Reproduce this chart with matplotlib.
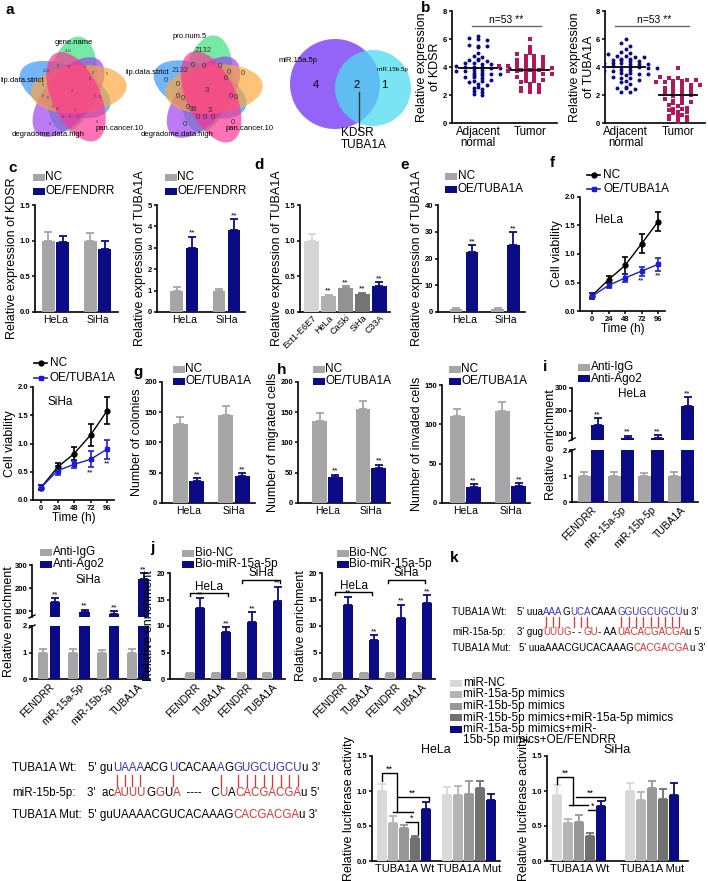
import numpy as np
import matplotlib
matplotlib.use('Agg')
import matplotlib.pyplot as plt
from matplotlib.patches import Ellipse, Circle, Rectangle
from matplotlib.lines import Line2D
from matplotlib.font_manager import FontProperties

plt.rcParams['font.family'] = ['Liberation Sans', 'DejaVu Sans']
plt.rcParams['axes.linewidth'] = 1.2

W, H = 708, 881
NAVY = '#0b0b85'
GRAY = '#a6a6a6'
LBLUE = '#1c1cd6'
CRIM = '#b5165b'
SEQ_BLUE = '#3434c8'
SEQ_RED = '#e8302f'

# ---------------- data ----------------
kdsr_adj = [6.2, 6.1, 6.0, 5.9, 5.6, 5.5, 5.5, 5.4, 5.0, 4.8, 4.7, 4.6, 4.5, 4.5, 4.4, 4.3, 4.3, 4.2,
            4.2, 4.1, 4.1, 4.0, 4.0, 4.0, 3.9, 3.9, 3.9, 3.8, 3.8, 3.7, 3.7, 3.6, 3.6, 3.5, 3.5, 3.4,
            3.4, 3.3, 3.3, 3.2, 3.1, 3.0, 3.0, 2.9, 2.8, 2.7, 2.6, 2.5, 2.4, 2.3, 2.2, 2.1, 2.0]
kdsr_tum = [6.0, 5.4, 5.2, 5.0, 4.9, 4.8, 4.8, 4.7, 4.6, 4.6, 4.5, 4.5, 4.4, 4.4, 4.3, 4.3, 4.2, 4.2,
            4.1, 4.1, 4.0, 4.0, 4.0, 3.9, 3.9, 3.9, 3.8, 3.8, 3.8, 3.7, 3.7, 3.6, 3.6, 3.5, 3.5, 3.4,
            3.4, 3.3, 3.2, 3.2, 3.1, 3.0, 3.0, 2.9, 2.8, 2.7, 2.6, 2.5, 2.4, 2.4, 2.3, 2.2, 2.2]
tuba_adj = [6.0, 5.7, 5.5, 5.3, 5.1, 5.0, 4.9, 4.8, 4.8, 4.7, 4.7, 4.6, 4.6, 4.5, 4.5, 4.4, 4.4, 4.3,
            4.3, 4.3, 4.2, 4.2, 4.2, 4.1, 4.1, 4.1, 4.0, 4.0, 4.0, 3.9, 3.9, 3.8, 3.8, 3.7, 3.7, 3.6,
            3.6, 3.5, 3.5, 3.4, 3.3, 3.2, 3.2, 3.1, 3.0, 2.9, 2.8, 2.6, 2.5, 2.5, 2.4, 2.2, 2.2]
tuba_tum = [3.9, 3.3, 3.2, 3.2, 3.1, 3.1, 3.0, 3.0, 2.9, 2.9, 2.8, 2.8, 2.7, 2.7, 2.6, 2.6, 2.5, 2.5,
            2.4, 2.4, 2.3, 2.3, 2.2, 2.2, 2.1, 2.1, 2.0, 2.0, 1.9, 1.8, 1.7, 1.6, 1.6, 1.5, 1.4, 1.4,
            1.3, 1.2, 1.1, 1.0, 1.0, 0.9, 0.8, 0.8, 0.7, 0.6, 0.5, 0.5, 0.4, 0.3, 0.2, 0.2, 0.1]
b_groups = ['Adjacent\nnormal', 'Tumor']

cells = ['HeLa', 'SiHa']
c_kdsr_nc, c_kdsr_nc_err = [1.0, 1.0], [0.12, 0.11]
c_kdsr_oe, c_kdsr_oe_err = [0.98, 0.88], [0.09, 0.11]
c_tuba_nc, c_tuba_nc_err = [1.0, 1.0], [0.15, 0.08]
c_tuba_oe, c_tuba_oe_err = [3.0, 3.85], [0.52, 0.48]

d_lines = ['Ect1-E6E7', 'HeLa', 'CaSki', 'SiHa', 'C33A']
d_vals = [1.0, 0.22, 0.33, 0.25, 0.37]
d_err = [0.1, 0.02, 0.03, 0.02, 0.05]
d_cols = ['#d6d6d6', '#b0b0b0', '#929292', '#747474', NAVY]

e_nc, e_nc_err = [1.2, 1.2], [0.2, 0.2]
e_oe, e_oe_err = [22.5, 25.2], [2.5, 4.6]

hours = [0, 24, 48, 72, 96]
f_hela_nc, f_hela_nc_err = [0.27, 0.55, 0.80, 1.18, 1.57], [0.05, 0.06, 0.15, 0.17, 0.16]
f_hela_oe, f_hela_oe_err = [0.26, 0.45, 0.58, 0.70, 0.82], [0.05, 0.05, 0.07, 0.08, 0.11]
f_siha_nc, f_siha_nc_err = [0.22, 0.58, 0.82, 1.15, 1.58], [0.04, 0.08, 0.12, 0.19, 0.24]
f_siha_oe, f_siha_oe_err = [0.22, 0.52, 0.63, 0.72, 0.90], [0.04, 0.08, 0.06, 0.14, 0.17]

g_nc, g_nc_err = [130, 146], [12, 14]
g_oe, g_oe_err = [37, 45], [4, 4]
mig_nc, mig_nc_err = [135, 155], [13, 14]
mig_oe, mig_oe_err = [43, 58], [4, 5]
inv_nc, inv_nc_err = [110, 117], [10, 12]
inv_oe, inv_oe_err = [20, 22], [4, 3]

rip_targets = ['FENDRR', 'miR-15a-5p', 'miR-15b-5p', 'TUBA1A']
rip_hela_igg, rip_hela_igg_err = [1.0, 1.0, 1.0, 1.0], [0.15, 0.15, 0.12, 0.15]
rip_hela_ago, rip_hela_ago_err = [135, 80, 80, 220], [30, 8, 10, 40]
rip_siha_igg, rip_siha_igg_err = [1.0, 1.0, 1.0, 1.0], [0.15, 0.12, 0.1, 0.12]
rip_siha_ago, rip_siha_ago_err = [140, 95, 88, 240], [15, 10, 10, 25]

j_labels = ['FENDRR', 'TUBA1A', 'FENDRR', 'TUBA1A']
j_nc, j_nc_err = [1.1, 1.1, 1.1, 1.1], [0.1, 0.1, 0.1, 0.1]
j1_oe, j1_oe_err = [13.4, 8.9, 10.8, 14.7], [1.9, 0.9, 1.8, 2.7]
j2_oe, j2_oe_err = [14.0, 7.4, 11.5, 14.3], [1.5, 0.9, 2.5, 1.5]

luc_groups = ['TUBA1A Wt', 'TUBA1A Mut']
luc_legend = ['miR-NC', 'miR-15a-5p mimics', 'miR-15b-5p mimics',
              'miR-15b-5p mimics+miR-15a-5p mimics',
              'miR-15a-5p mimics+miR-\n15b-5p mimics+OE/FENDRR']
luc_cols = ['#d9d9d9', '#b5b5b5', '#979797', '#707070', NAVY]
luc_hela_wt, luc_hela_wt_err = [1.0, 0.55, 0.47, 0.33, 0.75], [0.1, 0.09, 0.05, 0.03, 0.1]
luc_hela_mut, luc_hela_mut_err = [0.95, 0.95, 0.96, 1.04, 0.87], [0.11, 0.12, 0.18, 0.1, 0.09]
luc_siha_wt, luc_siha_wt_err = [0.95, 0.55, 0.56, 0.36, 0.79], [0.13, 0.05, 0.1, 0.04, 0.07]
luc_siha_mut, luc_siha_mut_err = [1.0, 0.87, 1.05, 0.89, 0.95], [0.12, 0.11, 0.1, 0.14, 0.17]

venn_sets1 = ['gene.name', 'lip.data.strict', 'degradome.data.high', 'pan.cancer.10']
venn_sets2 = ['pro.num.5', 'lip.data.strict', 'degradome.data.high', 'pan.cancer.10']
venn_nums = ['2132', '2132', '0', '0', '3', '38', '3', '0', '0', '0', '0', '0', '0', '0',
             '0', '0', '0', '0', '0', '0', '0', '0', '0']
venn_num_pos = [(-4, -40), (-26, -20), (-40, -10), (35, -17), (0, 0), (-14, 18), (3, 19),
                (-22, 33), (25, 31), (-14, -25), (-3, -24), (13, -24), (21, -18), (18, -12),
                (-29, -6), (-29, 5), (-24, 7), (23, 5), (28, 6), (-19, 16), (-9, 26), (-2, 26),
                (6, 26)]

# ---------------- helpers ----------------
fig = plt.figure(figsize=(W / 100, H / 100), dpi=100)
rend = fig.canvas.get_renderer()


def box(x0, y0, x1, y1):
    return fig.add_axes([x0 / W, 1 - y1 / H, (x1 - x0) / W, (y1 - y0) / H])


def txt(x, y, s, **kw):
    kw.setdefault('ha', 'left')
    kw.setdefault('va', 'center')
    return fig.text(x / W, 1 - y / H, s, **kw)


def fline(xs, ys, **kw):
    fig.add_artist(Line2D([v / W for v in xs], [1 - v / H for v in ys], **kw))


def prism(ax, ylim, yticks, ylabel=None, ylsize=9):
    ax.spines['top'].set_visible(False)
    ax.spines['right'].set_visible(False)
    ax.set_facecolor('none')
    ax.set_ylim(*ylim)
    ax.set_yticks(yticks)
    ax.tick_params(axis='y', length=2.5, width=1.1, labelsize=5.5, pad=1)
    ax.tick_params(axis='x', length=0, labelsize=7.5, pad=2)
    for lab in ax.get_yticklabels():
        lab.set_fontweight('bold')
    if ylabel:
        ax.set_ylabel(ylabel, fontsize=ylsize, labelpad=1)


def draw_bars(ax, x, vals, errs, color, width):
    ax.bar(x, vals, width, color=color, zorder=3)
    ax.errorbar(x, vals, yerr=[np.zeros(len(vals)), errs], fmt='none', ecolor=color,
                elinewidth=1.3, capsize=3, capthick=1.3, zorder=2)


def stars(ax, x, vals, errs, s='**', gap=0.0):
    for xi, v, e in zip(x, vals, errs):
        ax.text(xi, v + e + gap, s, ha='center', va='bottom', fontsize=6)


def legend_sw(x, y, items, step=12, size=8.5):
    for i, (lab, col) in enumerate(items):
        yy = y + i * step
        fig.add_artist(Rectangle((x / W, 1 - (yy + 3.5) / H), 12 / W, 7 / H,
                                 transform=fig.transFigure, color=col, lw=0))
        txt(x + 12.5, yy, lab, fontsize=size)


def pair_panel(bx, xlim, off, w, labels, nc, nc_err, oe, oe_err, ylim, yticks, ylabel):
    ax = box(*bx)
    x = np.arange(len(labels))
    draw_bars(ax, x - off, nc, nc_err, GRAY, w)
    draw_bars(ax, x + off, oe, oe_err, NAVY, w)
    ax.set_xlim(*xlim)
    ax.set_xticks(x)
    ax.set_xticklabels(labels)
    prism(ax, ylim, yticks, ylabel)
    return ax, x + off


def swarm_x(vals, center, step=0.17, binw=0.2):
    v = np.asarray(vals)
    bins = np.round(v / binw).astype(int)
    xs = np.zeros(len(v))
    for b in np.unique(bins):
        idx = np.where(bins == b)[0]
        xs[idx] = center + (np.arange(len(idx)) - (len(idx) - 1) / 2) * step
    return xs


def adv(s, size):
    if not s:
        return 0.0
    fp = FontProperties(family='Liberation Sans', size=size)
    w1 = rend.get_text_width_height_descent(s + 'l', fp, ismath=False)[0]
    w0 = rend.get_text_width_height_descent('l', fp, ismath=False)[0]
    return w1 - w0


def seq_line(x, y, parts, size):
    full = ''
    marks = []
    for s, c in parts:
        txt(x + adv(full, size), y, s, color=c, fontsize=size)
        if c == SEQ_BLUE:
            for k in range(len(s)):
                pre = full + s[:k]
                marks.append(x + adv(pre, size) + adv(s[k], size) / 2)
        full += s
    return marks


def panel_letter(x, y, s):
    txt(x, y, s, fontsize=11, fontweight='bold')


# ---------------- a: venn diagrams ----------------
va = box(0, 20, 425, 160)
va.set_xlim(0, 425)
va.set_ylim(160, 20)
va.axis('off')
petal_dirs = [192, -90, 120, -15, 55]
petal_cols = ['#2f93f5', '#35e07a', '#9a3cf0', '#ffa53a', '#ff2f92']


def venn5(cx, cy, sc, nsize):
    for ang, col in zip(petal_dirs, petal_cols):
        r = np.deg2rad(ang)
        va.add_patch(Ellipse((cx + 7 * sc * np.cos(r), cy + 7 * sc * np.sin(r)),
                             96 * sc, 48 * sc, angle=ang + 10, color=col, alpha=0.68, lw=0))
    for s, (dx, dy) in zip(venn_nums, venn_num_pos):
        va.text(cx + dx * sc, cy + dy * sc, s, fontsize=nsize, ha='center', va='center',
                color='#333333')


venn5(72, 91, 1.0, 2.3)
venn5(207, 91, 1.02, 5.5)
for (px, py), s in zip([(74, 43), (22, 80), (48, 135), (120, 128)], venn_sets1):
    va.text(px, py, s, fontsize=5.5, ha='center', va='center')
for (px, py), s in zip([(190, 37), (147, 72), (177, 135), (250, 128)], venn_sets2):
    va.text(px, py, s, fontsize=5.5, ha='center', va='center')

va.add_patch(Circle((335, 84), 45, color='#8d5cf6', alpha=0.95, lw=0))
va.add_patch(Circle((373, 88), 38, color='#4fdcf0', alpha=0.75, lw=0))
va.text(298, 60, 'miR.15a.5p', fontsize=5.5, ha='center', va='center')
va.text(393, 70, 'miR.15b.5p', fontsize=4.5, ha='center', va='center')
for px, s in [(316, '4'), (357, '2'), (384, '1')]:
    va.text(px, 85, s, fontsize=8, ha='center', va='center')
va.plot([359, 359], [92, 130], color='#333333', lw=1)
txt(341, 127, 'KDSR\nTUBA1A', fontsize=8.5, va='top', linespacing=1.0)
panel_letter(5, 10, 'a')

# ---------------- b: scatter ----------------
panel_letter(421, 8, 'b')
for bx, xl, adj, tum, lab, ny in [((452, 11, 557, 123), (-0.5, 1.52), kdsr_adj, kdsr_tum,
                                    'Relative expression\nof KDSR', 6.9),
                                   ((605, 11, 705, 123), (-0.4, 1.52), tuba_adj, tuba_tum,
                                    'Relative expression\nof TUBA1A', 6.9)]:
    ax = box(*bx)
    ax.scatter(swarm_x(adj, 0), adj, s=8, color=NAVY, marker='o', lw=0, zorder=3)
    ax.scatter(swarm_x(tum, 1), tum, s=7, color=CRIM, marker='s', lw=0, zorder=3)
    for c, v in [(0, adj), (1, tum)]:
        ax.plot([c - 0.36, c + 0.36], [np.median(v)] * 2, color='black', lw=1.3, zorder=4)
    ax.plot([-0.12 if xl[0] < -0.45 else -0.2, 1.22], [ny, ny], color='#666666', lw=1)
    ax.text(0.55, ny + 0.1, 'n=53 **', ha='center', va='bottom', fontsize=7.5)
    ax.set_xlim(*xl)
    ax.set_xticks([0, 1])
    ax.set_xticklabels(b_groups, fontsize=8.3, linespacing=0.95)
    prism(ax, (0, 8), [0, 2, 4, 6, 8], lab)
    ax.tick_params(axis='x', labelsize=8.3)

# ---------------- c ----------------
panel_letter(8, 168, 'c')
ax, xo = pair_panel((35, 205, 118, 312), (-0.49, 1.49), 0.17, 0.31, cells, c_kdsr_nc,
                    c_kdsr_nc_err, c_kdsr_oe, c_kdsr_oe_err, (0, 1.5), [0, 0.5, 1.0, 1.5],
                    'Relative expression of KDSR')
legend_sw(33, 177, [('NC', GRAY), ('OE/FENDRR', NAVY)], step=14)
ax, xo = pair_panel((157, 205, 245, 312), (-0.65, 1.44), 0.18, 0.3, cells, c_tuba_nc,
                    c_tuba_nc_err, c_tuba_oe, c_tuba_oe_err, (0, 5), [0, 1, 2, 3, 4, 5],
                    'Relative expression of TUBA1A')
stars(ax, xo, c_tuba_oe, c_tuba_oe_err)
legend_sw(165, 177, [('NC', GRAY), ('OE/FENDRR', NAVY)], step=14)

# ---------------- d ----------------
panel_letter(254, 165, 'd')
ax = box(300, 205, 390, 312)
xd = np.arange(len(d_lines))
for xi, v, e, col in zip(xd, d_vals, d_err, d_cols):
    draw_bars(ax, [xi], [v], [e], col, 0.85)
stars(ax, xd[1:], d_vals[1:], d_err[1:])
ax.set_xlim(-0.68, 4.62)
ax.set_xticks(xd)
ax.set_xticklabels(d_lines, rotation=45, ha='right', rotation_mode='anchor', fontsize=6.5)
prism(ax, (0, 1.5), [0, 0.5, 1.0, 1.5], 'Relative expression of TUBA1A')
ax.tick_params(axis='x', labelsize=6.5, pad=1)

# ---------------- e ----------------
panel_letter(400, 165, 'e')
ax, xo = pair_panel((438, 205, 525, 312), (-0.63, 1.47), 0.19, 0.3, cells, e_nc, e_nc_err,
                    e_oe, e_oe_err, (0, 40), [0, 10, 20, 30, 40], 'Relative expression of TUBA1A')
stars(ax, xo, e_oe, e_oe_err)
legend_sw(445, 176, [('NC', GRAY), ('OE/TUBA1A', NAVY)], step=13)


# ---------------- f ----------------
def viability(bx, xl, nc, nc_err, oe, oe_err, cell, cell_y):
    ax = box(*bx)
    ax.errorbar(hours, nc, yerr=nc_err, color='black', marker='o', ms=3.5, lw=1,
                elinewidth=1.2, capsize=2.5, capthick=1.2)
    ax.errorbar(hours, oe, yerr=oe_err, color=LBLUE, marker='s', ms=3.5, lw=1,
                elinewidth=1.2, capsize=2.5, capthick=1.2)
    for hx, v, e in zip(hours[3:], oe[3:], oe_err[3:]):
        ax.text(hx, v - e - 0.03, '**', ha='center', va='top', fontsize=6)
    ax.text(0.18, cell_y, cell, transform=ax.transAxes, fontsize=8.5, va='center')
    ax.set_xlim(*xl)
    ax.set_xticks(hours)
    prism(ax, (0, 2.0), [0, 0.5, 1.0, 1.5, 2.0], 'Cell viability')
    ax.set_yticklabels(['0.0', '0.5', '1.0', '1.5', '2.0'], fontweight='bold')
    ax.tick_params(axis='x', length=2.5, width=1.1, labelsize=5.5, pad=1)
    for lab in ax.get_xticklabels():
        lab.set_fontweight('bold')
    ax.set_xlabel('Time (h)', fontsize=8.5, labelpad=0)
    return ax


def line_legend(x, y, step):
    for i, (lab, col, mk) in enumerate([('NC', 'black', 'o'), ('OE/TUBA1A', LBLUE, 's')]):
        yy = y + i * step
        fline([x, x + 13], [yy, yy], color=col, lw=1.2)
        fline([x + 6.5], [yy], color=col, marker=mk, ms=3.5, lw=0)
        txt(x + 16, yy, lab, fontsize=8.5)


panel_letter(550, 163, 'f')
viability((580, 197, 665, 311), (-17.5, 106), f_hela_nc, f_hela_nc_err, f_hela_oe,
          f_hela_oe_err, 'HeLa', 0.8)
line_legend(587, 175, 14)
viability((33, 387, 114, 500), (-11.6, 106), f_siha_nc, f_siha_nc_err, f_siha_oe,
          f_siha_oe_err, 'SiHa', 0.87)
line_legend(34, 363, 15)

# ---------------- g, h ----------------
panel_letter(133, 372, 'g')
ax, xo = pair_panel((162, 382, 255, 503), (-0.58, 1.46), 0.18, 0.33, cells, g_nc, g_nc_err,
                    g_oe, g_oe_err, (0, 200), [0, 50, 100, 150, 200], 'Number of colonies')
stars(ax, xo, g_oe, g_oe_err)
legend_sw(173, 369, [('NC', GRAY), ('OE/TUBA1A', NAVY)], step=12)

panel_letter(277, 370, 'h')
ax, xo = pair_panel((298, 382, 390, 503), (-0.68, 1.44), 0.18, 0.34, cells, mig_nc,
                    mig_nc_err, mig_oe, mig_oe_err, (0, 200), [0, 50, 100, 150, 200],
                    'Number of migrated cells')
stars(ax, xo, mig_oe, mig_oe_err)
legend_sw(313, 369, [('NC', GRAY), ('OE/TUBA1A', NAVY)], step=12)

ax, xo = pair_panel((442, 385, 530, 503), (-0.52, 1.43), 0.18, 0.33, cells, inv_nc,
                    inv_nc_err, inv_oe, inv_oe_err, (0, 150), [0, 50, 100, 150],
                    'Number of invaded cells')
stars(ax, xo, inv_oe, inv_oe_err)
legend_sw(449, 369, [('NC', GRAY), ('OE/TUBA1A', NAVY)], step=12)


# ---------------- i: broken axis RIP ----------------
def rip_panel(x0, x1, top_y0, top_y1, ylow, bot_y0, bot_y1, xl, off, w, igg, igg_err,
              ago, ago_err, cell, cell_xy, ylab_x):
    axt = box(x0, top_y0, x1, top_y1)
    axb = box(x0, bot_y0, x1, bot_y1)
    x = np.arange(len(rip_targets))
    for ax in (axt, axb):
        draw_bars(ax, x - off, igg, igg_err, GRAY, w)
        draw_bars(ax, x + off, ago, ago_err, NAVY, w)
        ax.set_xlim(*xl)
    prism(axt, (ylow, 300), [100, 200, 300])
    axt.spines['bottom'].set_visible(False)
    axt.set_xticks([])
    stars(axt, x + off, ago, ago_err)
    prism(axb, (0, 2), [0, 1, 2])
    axb.set_xticks(x)
    axb.set_xticklabels(rip_targets, rotation=45, ha='right', rotation_mode='anchor',
                        fontsize=7.5)
    fline([x0 - 3, x0 + 3], [top_y1 + 1, top_y1 - 2], color='black', lw=1)
    fline([x0 - 3, x0 + 3], [bot_y0 + 2, bot_y0 - 1], color='black', lw=1)
    txt(cell_xy[0], cell_xy[1], cell, fontsize=8.5)
    txt(ylab_x, (top_y0 + bot_y1) / 2, 'Relative enrichment', rotation=90, ha='center',
        fontsize=9)


panel_letter(543, 367, 'i')
rip_panel(572, 698, 388, 440, 69, 450, 502, (-0.63, 3.57), 0.22, 0.42, rip_hela_igg,
          rip_hela_igg_err, rip_hela_ago, rip_hela_ago_err, 'HeLa', (618, 394), 551)
legend_sw(578, 367, [('Anti-IgG', GRAY), ('Anti-Ago2', NAVY)], step=12)
rip_panel(32, 150, 565, 617, 74, 626, 679, (-0.58, 3.42), 0.2, 0.34, rip_siha_igg,
          rip_siha_igg_err, rip_siha_ago, rip_siha_ago_err, 'SiHa', (75, 580), 9)
legend_sw(40, 552, [('Anti-IgG', GRAY), ('Anti-Ago2', NAVY)], step=12)


# ---------------- j ----------------
def pull_panel(bx, xl, oe, oe_err, hela_br, siha_br):
    ax, xo = pair_panel(bx, xl, 0.2, 0.38, j_labels, j_nc, j_nc_err, oe, oe_err, (0, 20),
                        [0, 5, 10, 15, 20], 'Relative enrichment')
    stars(ax, xo, oe, oe_err)
    ax.set_xticklabels(j_labels, rotation=45, ha='right', rotation_mode='anchor', fontsize=7.5)
    for (a, b, yv), lab in [(hela_br, 'HeLa'), (siha_br, 'SiHa')]:
        ax.plot([a, a, b, b], [yv - 0.6, yv, yv, yv - 0.6], color='black', lw=1, clip_on=False)
        ax.text((a + b) / 2, yv + 0.1, lab, ha='center', va='bottom', fontsize=8.5)
    return ax


panel_letter(150, 548, 'j')
pull_panel((170, 573, 285, 679), (-0.97, 3.49), j1_oe, j1_oe_err, (-0.19, 1.28, 16.2),
           (1.82, 3.3, 18.7))
legend_sw(182, 553, [('Bio-NC', GRAY), ('Bio-miR-15a-5p', NAVY)], step=11)
pull_panel((322, 573, 435, 679), (-0.77, 3.49), j2_oe, j2_oe_err, (-0.28, 1.13, 16.4),
           (1.72, 3.12, 18.7))
legend_sw(337, 553, [('Bio-NC', GRAY), ('Bio-miR-15a-5p', NAVY)], step=11)

# ---------------- k: sequences ----------------
panel_letter(450, 558, 'k')
K = 'black'
txt(452, 612, 'TUBA1A Wt:', fontsize=7)
mk = seq_line(517, 612, [("5' uua", K), ('AAA', SEQ_BLUE), ('G', K), ('UCA', SEQ_BLUE),
                         ('CAAA', K), ('GGUGCUGCU', SEQ_BLUE), ("u 3'", K)], 7)
for mx in mk:
    fline([mx, mx], [617, 627], color=SEQ_RED, lw=0.9)
txt(452, 632, 'miR-15a-5p:', fontsize=7)
seq_line(517, 632, [("3' gug", K), ('UUUG', SEQ_RED), ('- - ', K), ('GU', SEQ_RED),
                    ('- AA', K), ('UACACGACGA', SEQ_RED), ("u 5'", K)], 7)
txt(452, 648, 'TUBA1A Mut:', fontsize=7)
seq_line(519, 648, [("5' uuaAAACGUCACAAAG", K), ('CACGACGA', SEQ_RED), ("u 3'", K)], 7)

txt(12, 768, 'TUBA1A Wt:', fontsize=8.3)
mk = seq_line(88, 768, [("5' gu", K), ('UAAA', SEQ_BLUE), ('ACG', K), ('U', SEQ_BLUE),
                        ('CACAA', K), ('A', SEQ_BLUE), ('G', K), ('GUGCUGCU', SEQ_BLUE),
                        ("u 3'", K)], 8.3)
for mx in mk:
    fline([mx, mx], [775, 786], color=SEQ_RED, lw=0.9)
txt(12, 793, 'miR-15b-5p:', fontsize=8.3)
seq_line(87, 793, [("3'  ac", K), ('AUUU', SEQ_RED), ('G', K), ('G', SEQ_RED), ('U', K),
                   ('A', SEQ_RED), ('  ----   C', K), ('U', SEQ_RED), ('A', K),
                   ('CACGACGA', SEQ_RED), ("u 5'", K)], 8.3)
txt(12, 815, 'TUBA1A Mut:', fontsize=8.3)
seq_line(88, 815, [("5' guUAAAACGUCACAAAG", K), ('CACGACGA', SEQ_RED), ("u 3'", K)], 8.3)

# ---------------- luciferase ----------------
for i, (lab, col) in enumerate(zip(luc_legend, luc_cols)):
    yy = 683 + i * 11.5
    fig.add_artist(Rectangle((450 / W, 1 - (yy + 3.5) / H), 12 / W, 7 / H,
                             transform=fig.transFigure, color=col, lw=0))
    for j, part in enumerate(lab.split('\n')):
        txt(463, yy + j * 11.5, part, fontsize=8.5)


def luc_panel(bx, xl, gap, wt, wt_err, mut, mut_err, cell, lines, texts):
    ax = box(*bx)
    xb = np.arange(len(wt))
    for i in range(len(wt)):
        draw_bars(ax, [xb[i]], [wt[i]], [wt_err[i]], luc_cols[i], 0.9)
        draw_bars(ax, [xb[i] + gap], [mut[i]], [mut_err[i]], luc_cols[i], 0.9)
    ax.set_xlim(*xl)
    ax.set_xticks([2, 2 + gap])
    ax.set_xticklabels(luc_groups)
    prism(ax, (0, 1.5), [0, 0.5, 1.0, 1.5], 'Relative luciferase activity')
    ax.set_yticklabels(['0.0', '0.5', '1.0', '1.5'], fontweight='bold')
    ax.tick_params(axis='x', labelsize=8)
    ax.set_title(cell, fontsize=9, pad=1)
    for xs, ys in lines:
        ax.plot(xs, ys, color='black', lw=1, clip_on=False)
    for tx, ty, s in texts:
        ax.text(tx, ty, s, ha='center', va='bottom', fontsize=6.5)


luc_panel((372, 756, 500, 861), (-0.95, 10.7), 5.9, luc_hela_wt, luc_hela_wt_err,
          luc_hela_mut, luc_hela_mut_err, 'HeLa',
          [([0, 0, 1.3, 1.3], [1.14, 1.26, 1.26, 0.70]), ([1.0, 2.8], [0.70, 0.70]),
           ([1.3, 4.2, 4.2], [0.91, 0.91, 0.87]), ([2.15, 3.2, 3.2], [0.56, 0.56, 0.38])],
          [(0.6, 1.25, '**'), (2.75, 0.9, '**'), (2.65, 0.55, '*')])
luc_panel((547, 756, 688, 861), (-0.95, 11.9), 6.6, luc_siha_wt, luc_siha_wt_err,
          luc_siha_mut, luc_siha_mut_err, 'SiHa',
          [([0, 0, 1.45, 1.45], [1.1, 1.2, 1.2, 0.8]), ([1.1, 2.8], [0.8, 0.8]),
           ([1.7, 4.3, 4.3], [0.91, 0.91, 0.87]), ([2.8, 3.7, 3.7], [0.73, 0.73, 0.42])],
          [(0.7, 1.19, '**'), (3.0, 0.9, '**'), (3.25, 0.72, '*')])

fig.savefig('out.png', dpi=100)
